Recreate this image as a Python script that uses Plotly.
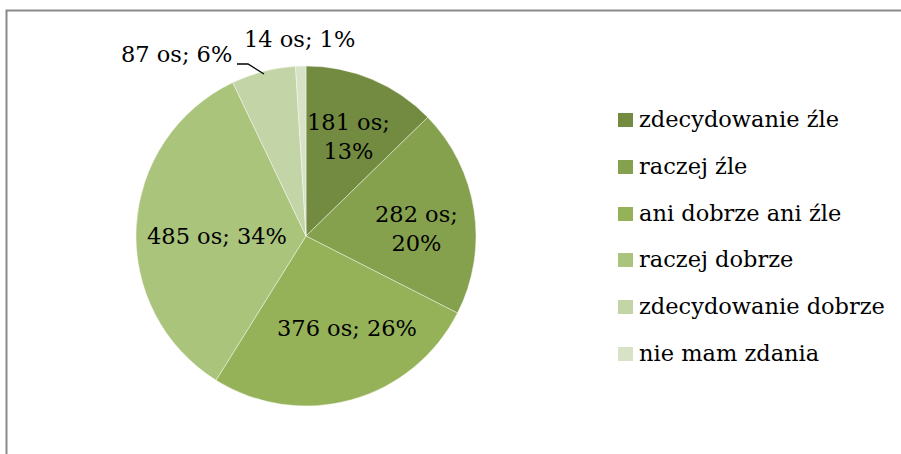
import plotly.graph_objects as go

labels = ["zdecydowanie źle", "raczej źle", "ani dobrze ani źle", "raczej dobrze",
          "zdecydowanie dobrze", "nie mam zdania"]
values = [181, 282, 376, 485, 87, 14]
colors = ["#738B41", "#85A14D", "#95B259", "#AAC47C", "#C3D4A7", "#D7E2C6"]

W, H = 901, 454
FONT = "DejaVu Serif"
FS = 22.5

def px(x):
    return x / W

def py(y):
    return 1 - y / H

cx, cy, r = 306, 236, 170

fig = go.Figure(go.Pie(
    labels=labels, values=values, sort=False, direction="clockwise", rotation=0,
    marker=dict(colors=colors, line=dict(color="rgba(255,255,255,0.6)", width=0.7)),
    textinfo="none",
    domain=dict(x=[px(cx - r), px(cx + r)], y=[py(cy + r), py(cy - r)]),
    showlegend=False, hoverinfo="label+value+percent",
))

total = sum(values)
# data label layout: (center x, center y, two-line?)
label_layout = [(348, 136, True), (416, 228, True), (347, 328, False),
                (217, 236, False), (176, 54, False), (299, 39, False)]
annotations = []
shapes = []
for v, (x, y, two) in zip(values, label_layout):
    pct = round(100 * v / total)
    sep = "<br>" if two else " "
    annotations.append(dict(x=px(x), y=py(y), xref="paper", yref="paper",
                            text=f"{v} os;{sep}{pct}%", showarrow=False,
                            font=dict(family=FONT, size=FS, color="#000000"),
                            xanchor="center", yanchor="middle"))
# leader line for small slice label
shapes.append(dict(type="path", xref="paper", yref="paper",
                   path=f"M {px(237)},{py(64)} L {px(248)},{py(64)} L {px(264)},{py(74)}",
                   line=dict(color="#000000", width=1.3)))

# manual legend
leg_y = [120, 167, 214, 260, 307, 354]
for lab, col, y in zip(labels, colors, leg_y):
    shapes.append(dict(type="rect", xref="paper", yref="paper",
                       x0=px(618), x1=px(633), y0=py(y + 7), y1=py(y - 7),
                       fillcolor=col, line=dict(width=0)))
    annotations.append(dict(x=px(637), y=py(y - 1), xref="paper", yref="paper",
                            text=lab, showarrow=False, xanchor="left", yanchor="middle",
                            font=dict(family=FONT, size=FS, color="#000000")))

# chart frame (right and bottom edges lie outside the picture)
shapes.append(dict(type="rect", xref="paper", yref="paper",
                   x0=px(6.5), y0=py(10.5), x1=px(W + 60), y1=py(H + 60),
                   line=dict(color="#898989", width=2), fillcolor="rgba(0,0,0,0)"))

fig.update_layout(
    width=W, height=H, margin=dict(l=0, r=0, t=0, b=0),
    paper_bgcolor="#FFFFFF", plot_bgcolor="#FFFFFF",
    annotations=annotations, shapes=shapes,
)
fig.write_html("out.html", config={"displayModeBar": False},
               post_script="document.body.style.margin='0';"
                           "document.body.style.overflow='hidden';"
                           "document.documentElement.style.overflow='hidden';")
